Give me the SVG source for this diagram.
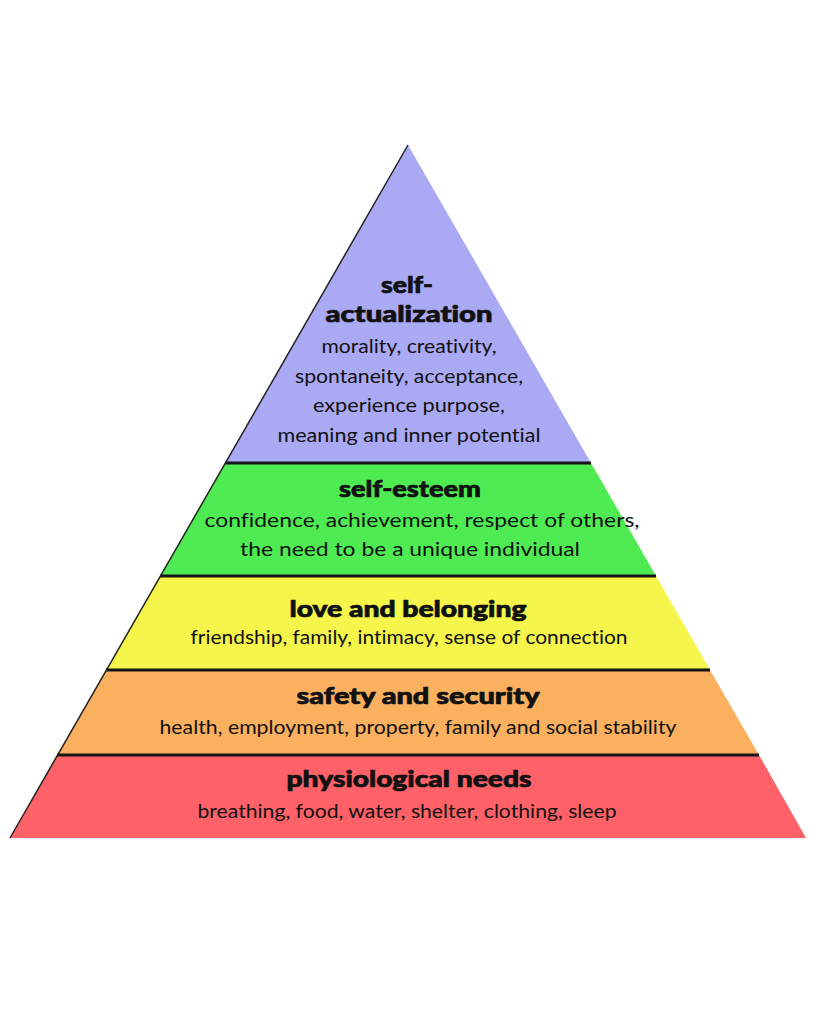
<svg xmlns="http://www.w3.org/2000/svg" width="819" height="1024" viewBox="0 0 819 1024">
<style>
text{font-variant-ligatures:none;font-feature-settings:"liga" 0,"clig" 0}
.t{font-family:Lato,"Open Sans","Liberation Sans",sans-serif;font-weight:900;font-size:22px;fill:#111;stroke:#111;stroke-width:0.7;text-anchor:middle}
.b{font-family:Lato,"Open Sans","Liberation Sans",sans-serif;font-weight:400;font-size:19.5px;fill:#111;text-anchor:middle}
.div{stroke:#151515;stroke-width:3}
</style>
<rect width="819" height="1024" fill="#ffffff"/>
<g id="self-actualization">
<polygon points="408,145 591,463 225,463" fill="#aaa9f4"/>
<text class="t" x="407" y="293" textLength="52" lengthAdjust="spacingAndGlyphs">self-</text>
<text class="t" x="409" y="322" textLength="167" lengthAdjust="spacingAndGlyphs">actualization</text>
<text class="b" x="409" y="353" textLength="175" lengthAdjust="spacingAndGlyphs">morality, creativity,</text>
<text class="b" x="409" y="383" textLength="228" lengthAdjust="spacingAndGlyphs">spontaneity, acceptance,</text>
<text class="b" x="409" y="412" textLength="192" lengthAdjust="spacingAndGlyphs">experience purpose,</text>
<text class="b" x="409" y="442" textLength="263" lengthAdjust="spacingAndGlyphs">meaning and inner potential</text>
</g>
<g id="self-esteem">
<polygon points="225,463 591,463 656,576 160,576" fill="#4eec52"/>
<text class="t" x="410" y="497" textLength="142" lengthAdjust="spacingAndGlyphs">self-esteem</text>
<text class="b" x="422" y="527" textLength="435" lengthAdjust="spacingAndGlyphs">confidence, achievement, respect of others,</text>
<text class="b" x="410" y="556" textLength="340" lengthAdjust="spacingAndGlyphs">the need to be a unique individual</text>
</g>
<g id="love-and-belonging">
<polygon points="160,576 656,576 710,670 106,670" fill="#f5f54b"/>
<text class="t" x="408" y="617" textLength="237" lengthAdjust="spacingAndGlyphs">love and belonging</text>
<text class="b" x="409" y="644" textLength="437" lengthAdjust="spacingAndGlyphs">friendship, family, intimacy, sense of connection</text>
</g>
<g id="safety-and-security">
<polygon points="106,670 710,670 759,755 57,755" fill="#fbb05f"/>
<text class="t" x="418" y="704" textLength="243" lengthAdjust="spacingAndGlyphs">safety and security</text>
<text class="b" x="418" y="734" textLength="517" lengthAdjust="spacingAndGlyphs">health, employment, property, family and social stability</text>
</g>
<g id="physiological-needs">
<polygon points="57,755 759,755 806,838 10,838" fill="#fe6167"/>
<text class="t" x="409" y="787" textLength="245" lengthAdjust="spacingAndGlyphs">physiological needs</text>
<text class="b" x="407" y="818" textLength="419" lengthAdjust="spacingAndGlyphs">breathing, food, water, shelter, clothing, sleep</text>
</g>
<g id="connectors">
<line class="div" x1="225" y1="463" x2="591" y2="463"/>
<line class="div" x1="160" y1="576" x2="656" y2="576"/>
<line class="div" x1="106" y1="670" x2="710" y2="670"/>
<line class="div" x1="57" y1="755" x2="759" y2="755"/>
<line x1="408" y1="145" x2="10" y2="838" stroke="#222" stroke-width="1.5"/>
</g>
</svg>
